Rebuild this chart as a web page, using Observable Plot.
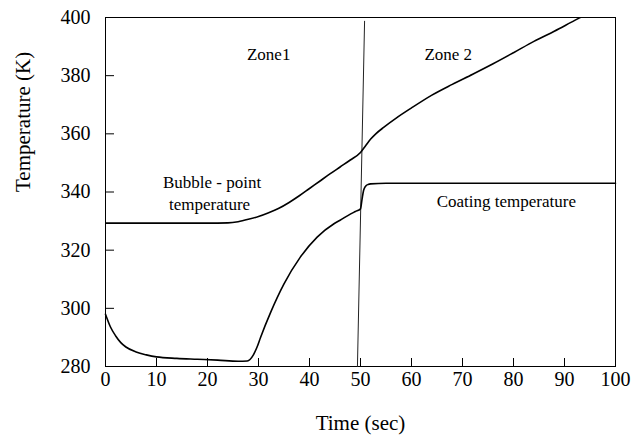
<!DOCTYPE html>
<html>
<head>
<meta charset="utf-8">
<script src="https://cdn.jsdelivr.net/npm/d3@7"></script>
<script src="https://cdn.jsdelivr.net/npm/@observablehq/plot@0.6"></script>
<style>
  html, body { margin: 0; padding: 0; background: #fff; }
  svg { display: block; }
</style>
</head>
<body>
<div id="chart"></div>
<script>
// Bubble-point temperature curve
const bubbleTime = [0, 10, 20, 24, 26, 28, 30, 32, 34, 36, 38, 40, 42, 44, 46, 48, 50, 51, 52, 53, 54.6, 57, 60, 64, 68, 72, 76, 80, 84, 88, 92, 93.1];
const bubbleTemp = [329.3, 329.3, 329.3, 329.4, 329.8, 330.6, 331.6, 332.9, 334.4, 336.4, 338.7, 341.2, 343.7, 346.2, 348.6, 351.0, 353.6, 355.9, 358.2, 360.0, 362.3, 365.4, 368.9, 373.3, 377.0, 380.5, 384.1, 387.9, 391.8, 395.3, 399.0, 400];

// Coating temperature curve
const coatTime = [0, 1, 2, 3, 4, 6, 8, 10, 14, 18, 22, 26, 27.8, 29, 29.7, 30.4, 32.4, 35, 38.2, 41.5, 44.8, 46, 48, 49, 50, 50.3, 50.6, 51, 51.5, 52, 55, 60, 100];
const coatTemp = [298, 293.5, 290.5, 288.2, 286.7, 285.0, 284.0, 283.3, 282.8, 282.5, 282.2, 281.8, 281.9, 284.0, 286.6, 290, 298.7, 308.4, 317.6, 324.5, 329.1, 330.3, 332.4, 333.3, 334.2, 337.5, 340.5, 342.0, 342.6, 342.8, 343, 343, 343];

// Zone divider line
const dividerTime = [49.4, 50.8];
const dividerTemp = [280, 398.7];

// Tick values
const xTicks = [0, 10, 20, 30, 40, 50, 60, 70, 80, 90, 100];
const yTicks = [280, 300, 320, 340, 360, 380, 400];

// Axis titles
const xTitle = "Time (sec)";
const yTitle = "Temperature (K)";

// Annotations
const noteText = ["Zone1", "Zone 2", "Bubble - point", "temperature", "Coating temperature"];
const noteTime = [32, 67.2, 20.9, 20.4, 78.6];
const noteTemp = [387.3, 387.3, 343.3, 335.7, 336.6];

const bubble = bubbleTime.map((t, i) => ({t, T: bubbleTemp[i]}));
const coat = coatTime.map((t, i) => ({t, T: coatTemp[i]}));
const divider = dividerTime.map((t, i) => ({t, T: dividerTemp[i]}));
const notes = noteText.map((s, i) => ({s, t: noteTime[i], T: noteTemp[i]}));

const W = 633, H = 437;
const mL = 105, mR = 18, mT = 17, mB = 71;
const plotW = W - mL - mR, plotH = H - mT - mB;

const chart = Plot.plot({
  width: W,
  height: H,
  marginLeft: mL,
  marginRight: mR,
  marginTop: mT,
  marginBottom: mB,
  style: {fontFamily: "'Liberation Serif', 'Times New Roman', serif", fontSize: "20px", color: "#000", background: "#fff"},
  x: {domain: [0, 100]},
  y: {domain: [280, 400]},
  marks: [
    Plot.frame({stroke: "#000", strokeWidth: 1}),
    Plot.tickY(yTicks, {y: d => d, stroke: "#000", strokeWidth: 1, insetRight: plotW - 9}),
    Plot.tickX(xTicks, {x: d => d, stroke: "#000", strokeWidth: 1, insetTop: plotH - 8}),
    Plot.axisX({ticks: xTicks, tickSize: 0, tickPadding: 5, tickFormat: d => String(d), fontSize: 20, label: null}),
    Plot.axisY({ticks: yTicks, tickSize: 0, tickPadding: 15, tickFormat: d => String(d), fontSize: 20, label: null}),
    Plot.text([xTitle], {text: d => d, frameAnchor: "bottom", dy: 63, fontSize: 21, fill: "#000"}),
    Plot.text([yTitle], {text: d => d, frameAnchor: "left", rotate: -90, dx: -82, fontSize: 21, fill: "#000"}),
    Plot.line(divider, {x: "t", y: "T", stroke: "#222", strokeWidth: 1}),
    Plot.line(bubble, {x: "t", y: "T", stroke: "#000", strokeWidth: 1.6, curve: "monotone-x", clip: true}),
    Plot.line(coat, {x: "t", y: "T", stroke: "#000", strokeWidth: 1.6, curve: "monotone-x"}),
    Plot.text(notes, {x: "t", y: "T", text: "s", fontSize: 17, fill: "#000"})
  ]
});
document.getElementById("chart").appendChild(chart);
</script>
</body>
</html>
